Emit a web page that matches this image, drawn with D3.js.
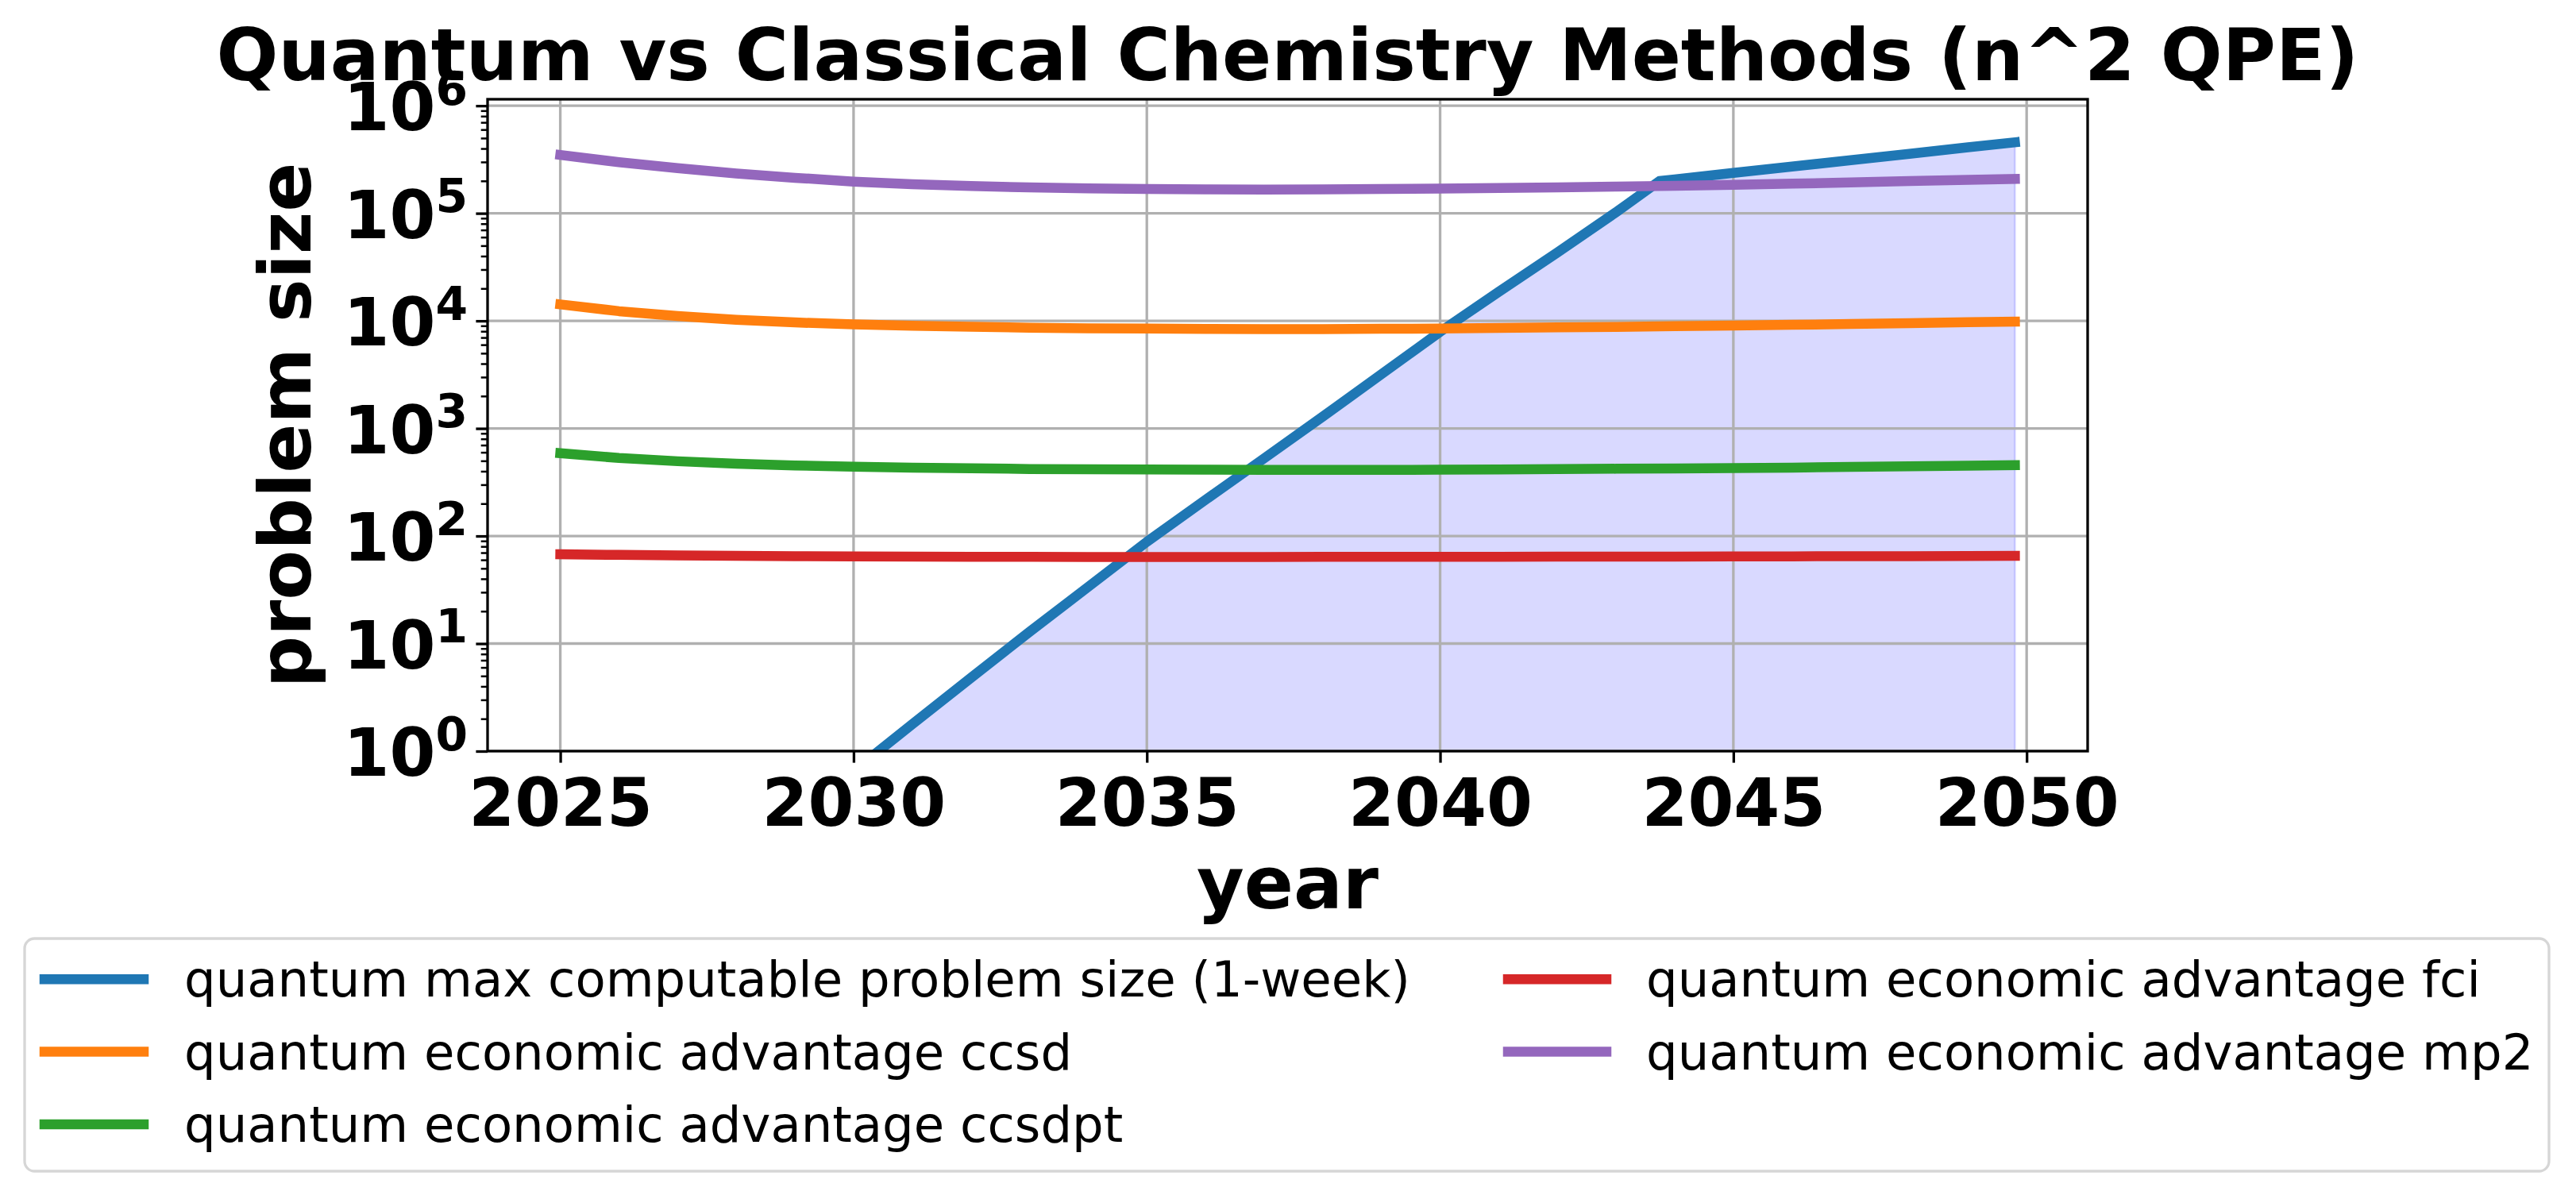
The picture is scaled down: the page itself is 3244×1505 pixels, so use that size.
<!DOCTYPE html>
<html><head><meta charset="utf-8">
<script src="https://cdn.jsdelivr.net/npm/d3@7"></script>
<style>html,body{margin:0;padding:0;background:#fff;} svg{display:block;}</style>
</head><body>
<script>
// ---------------- data ----------------
const years = [2025,2026,2027,2028,2029,2030,2031,2032,2033,2034,2035,2036,2037,2038,2039,2040,2041,2042,2043,2044,2045,2046,2047,2048,2049,2049.8];
const blueYears = [2025,2026,2027,2028,2029,2030,2031,2032,2033,2034,2035,2036,2037,2038,2039,2040,2041,2042,2043,2043.74,2044,2045,2046,2047,2048,2049,2049.8];
const quantumMax = [0.00398,0.01096,0.0302,0.0832,0.229,0.653,1.778,4.797,12.85,33.65,88.3,216.8,527.2,1288,3192,7907,18620,43150,102300,199500,206500,237100,271600,311900,357300,410200,457100];
const ccsd = [14220,12300,11090,10230,9661,9290,9016,8810,8630,8531,8472,8414,8395,8395,8433,8492,8590,8690,8790,8913,9036,9183,9354,9528,9705,9840];
const ccsdpt = [588.8,530.9,495.5,469.9,452.9,441.6,432.5,425.6,419.8,416.9,415.0,413.0,412.1,412.1,412.1,413.0,415.9,418.8,421.7,424.6,427.6,432.5,438.5,444.6,450.8,456.0];
const fci = [67.6,66.7,65.9,65.3,64.9,64.6,64.3,64.1,64.0,63.8,63.8,63.8,63.8,64.0,64.0,64.1,64.1,64.3,64.3,64.4,64.6,64.7,64.9,65.0,65.2,65.3];
const mp2 = [348300,298500,263000,234400,213800,197200,186200,179100,173800,170200,168300,166700,166300,166700,167900,169400,171800,174200,177000,180300,183700,188400,193600,199100,204600,208900];
const xTicks = [2025,2030,2035,2040,2045,2050];
const yTickExps = [0,1,2,3,4,5,6];
const seriesNames = [
  "quantum max computable problem size (1-week)",
  "quantum economic advantage ccsd",
  "quantum economic advantage ccsdpt",
  "quantum economic advantage fci",
  "quantum economic advantage mp2"
];
const titleText = "Quantum vs Classical Chemistry Methods (n^2 QPE)";
const xLabel = "year";
const yLabel = "problem size";

// ---------------- layout / style ----------------
const W = 3244, H = 1505;
const m = {left: 614, right: 2629, top: 125, bottom: 946};
const colors = ["#1f77b4", "#ff7f0e", "#2ca02c", "#d62728", "#9467bd"];
const FONT = "'DejaVu Sans', sans-serif";
const LW = 12.5;

const svg = d3.select("body").append("svg").attr("width", W).attr("height", H)
  .attr("font-family", FONT);
svg.append("rect").attr("width", W).attr("height", H).attr("fill", "#fff");

const xPad = 0.05 * (d3.max(years) - d3.min(years));
const x = d3.scaleLinear().domain([d3.min(years) - xPad, d3.max(years) + xPad]).range([m.left, m.right]);
const y = d3.scaleLog().domain([1, Math.pow(10, 6.06)]).range([m.bottom, m.top]);

svg.append("clipPath").attr("id", "plotclip").append("rect")
  .attr("x", m.left).attr("y", m.top).attr("width", m.right - m.left).attr("height", m.bottom - m.top);

const plot = svg.append("g").attr("clip-path", "url(#plotclip)");

// fill under quantum line
const blueData = blueYears.map((t, i) => [t, quantumMax[i]]);
const area = d3.area().x(d => x(d[0])).y0(y.range()[0] + 20).y1(d => y(d[1]));
plot.append("path").attr("d", area(blueData))
  .attr("fill", "blue").attr("fill-opacity", 0.15)
  .attr("stroke", "blue").attr("stroke-opacity", 0.15).attr("stroke-width", 2.5);

// grid
const grid = plot.append("g");
xTicks.forEach(t => grid.append("line").attr("x1", x(t)).attr("x2", x(t)).attr("y1", m.top).attr("y2", m.bottom)
  .attr("stroke", "#b0b0b0").attr("stroke-width", 3.3));
yTickExps.forEach(e => grid.append("line").attr("x1", m.left).attr("x2", m.right).attr("y1", y(Math.pow(10, e))).attr("y2", y(Math.pow(10, e)))
  .attr("stroke", "#b0b0b0").attr("stroke-width", 3.3));

// lines
const line = d3.line().x(d => x(d[0])).y(d => y(d[1]));
const series = [
  blueData,
  years.map((t, i) => [t, ccsd[i]]),
  years.map((t, i) => [t, ccsdpt[i]]),
  years.map((t, i) => [t, fci[i]]),
  years.map((t, i) => [t, mp2[i]])
];
series.forEach((s, i) => {
  plot.append("path").attr("d", line(s)).attr("fill", "none")
    .attr("stroke", colors[i]).attr("stroke-width", LW)
    .attr("stroke-linecap", "square").attr("stroke-linejoin", "round");
});

// x axis
const xAxis = svg.append("g").attr("transform", `translate(0,${m.bottom})`)
  .call(d3.axisBottom(x).tickValues(xTicks).tickFormat(d3.format("d")).tickSize(14.6).tickPadding(10));
xAxis.select(".domain").remove();
xAxis.selectAll(".tick line").attr("stroke", "#000").attr("stroke-width", 3.3);
xAxis.selectAll(".tick text").attr("y", 94).attr("dy", 0)
  .attr("font-size", 83.3).attr("font-weight", "bold").attr("font-family", FONT).attr("fill", "#000");

// y axis major
const majors = yTickExps.map(e => Math.pow(10, e));
const yAxis = svg.append("g").attr("transform", `translate(${m.left},0)`)
  .call(d3.axisLeft(y).tickValues(majors).tickFormat("").tickSize(14.6));
yAxis.select(".domain").remove();
yAxis.selectAll(".tick line").attr("stroke", "#000").attr("stroke-width", 3.3);
// y axis minor
const minors = [];
for (let e = 0; e < 6; e++) for (let k = 2; k <= 9; k++) minors.push(k * Math.pow(10, e));
const yMinor = svg.append("g").attr("transform", `translate(${m.left},0)`)
  .call(d3.axisLeft(y).tickValues(minors).tickFormat("").tickSize(8.3));
yMinor.select(".domain").remove();
yMinor.selectAll(".tick line").attr("stroke", "#000").attr("stroke-width", 2.5);

// y tick labels 10^e
yTickExps.forEach(e => {
  const t = svg.append("text").attr("x", m.left - 25).attr("y", y(Math.pow(10, e)) + 31)
    .attr("text-anchor", "end").attr("font-weight", "bold").attr("fill", "#000");
  t.append("tspan").attr("font-size", 83.3).text("10");
  t.append("tspan").attr("font-size", 58.3).attr("dy", -32.5).text(String(e));
});

// spines
svg.append("rect").attr("x", m.left).attr("y", m.top).attr("width", m.right - m.left).attr("height", m.bottom - m.top)
  .attr("fill", "none").attr("stroke", "#000").attr("stroke-width", 3.3);

// titles
svg.append("text").attr("x", (m.left + m.right) / 2).attr("y", 101).attr("text-anchor", "middle")
  .attr("font-size", 91.7).attr("font-weight", "bold").text(titleText);
svg.append("text").attr("x", (m.left + m.right) / 2).attr("y", 1144).attr("text-anchor", "middle")
  .attr("font-size", 91.7).attr("font-weight", "bold").text(xLabel);
svg.append("text").attr("transform", `translate(391,${(m.top + m.bottom) / 2}) rotate(-90)`).attr("text-anchor", "middle")
  .attr("font-size", 91.7).attr("font-weight", "bold").text(yLabel);

// legend
const lg = svg.append("g");
lg.append("rect").attr("x", 31).attr("y", 1182).attr("width", 3179).attr("height", 293).attr("rx", 12.5)
  .attr("fill", "#fff").attr("stroke", "#d6d6d6").attr("stroke-width", 3.3);
const colX = [{h0: 56, h1: 181, tx: 232}, {h0: 1899, h1: 2023, tx: 2073}];
seriesNames.forEach((name, i) => {
  const col = i < 3 ? 0 : 1;
  const row = i < 3 ? i : i - 3;
  const cy = 1233.3 + row * 91.3;
  lg.append("line").attr("x1", colX[col].h0).attr("x2", colX[col].h1).attr("y1", cy).attr("y2", cy)
    .attr("stroke", colors[i]).attr("stroke-width", LW).attr("stroke-linecap", "square");
  lg.append("text").attr("x", colX[col].tx).attr("y", cy + 22).attr("font-size", 62.5).attr("fill", "#000").text(name);
});
</script>
</body></html>
